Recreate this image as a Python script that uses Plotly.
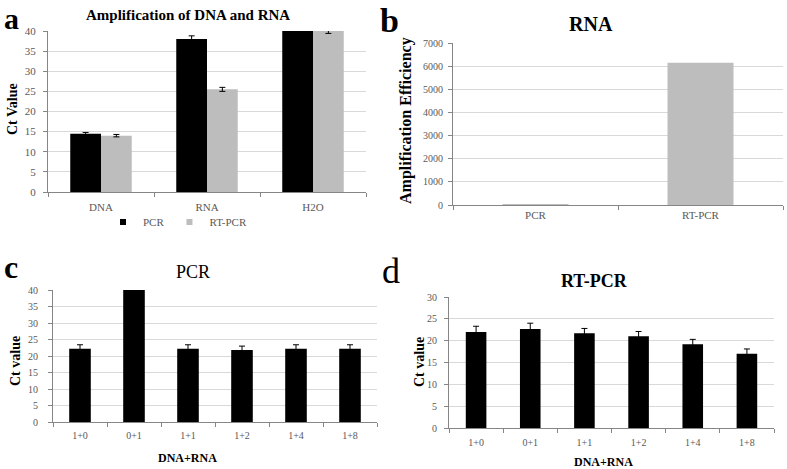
import plotly.graph_objects as go

W, H = 787, 469

# Panel a data
a_cats = ["DNA", "RNA", "H2O"]
a_pcr = [14.5, 38.0, 40.0]
a_pcr_err = [0.3, 0.8, 0.1]
a_rt = [14.0, 25.5, 40.0]
a_rt_err = [0.3, 0.5, 0.6]

# Panel b data
b_cats = ["PCR", "RT-PCR"]
b_vals = [5, 6150]

# Panel c data
c_cats = ["1+0", "0+1", "1+1", "1+2", "1+4", "1+8"]
c_vals = [22.2, 40.0, 22.2, 21.8, 22.2, 22.2]
c_err = [1.2, 0.1, 1.2, 1.2, 1.2, 1.2]

# Panel d data
d_cats = ["1+0", "0+1", "1+1", "1+2", "1+4", "1+8"]
d_vals = [22.0, 22.7, 21.7, 21.0, 19.2, 17.0]
d_err = [1.3, 1.3, 1.1, 1.1, 1.1, 1.1]

FONT = "Liberation Serif, Times New Roman, serif"
BLACK = "#000000"
GRAY = "#BDBDBD"
TICKC = "#595959"
GRID = "#D9D9D9"
AXC = "#868686"


def px(x):
    return x / W


def py(y):
    return 1 - y / H


fig = go.Figure()


def err(e):
    return dict(type="data", array=e, visible=True, color="#000000", thickness=1, width=3)


fig.add_trace(go.Bar(x=a_cats, y=a_pcr, name="PCR", marker=dict(color=BLACK, line=dict(width=0)),
                     error_y=err(a_pcr_err), xaxis="x", yaxis="y", showlegend=False, legendgroup="pcr"))
fig.add_trace(go.Bar(x=a_cats, y=a_rt, name="RT-PCR", marker=dict(color=GRAY, line=dict(width=0)),
                     error_y=err(a_rt_err), xaxis="x", yaxis="y", showlegend=False, legendgroup="rt"))
# legend entries (small square keys)
fig.add_trace(go.Scatter(x=[None], y=[None], mode="markers", name="PCR", legendgroup="pcr",
                         marker=dict(symbol="square", size=6, color=BLACK), xaxis="x", yaxis="y"))
fig.add_trace(go.Scatter(x=[None], y=[None], mode="markers", name="RT-PCR", legendgroup="rt",
                         marker=dict(symbol="square", size=6, color=GRAY), xaxis="x", yaxis="y"))

fig.add_trace(go.Bar(x=b_cats, y=b_vals, marker=dict(color=GRAY, line=dict(width=0)), showlegend=False,
                     xaxis="x2", yaxis="y2", width=0.4))
fig.add_trace(go.Bar(x=c_cats, y=c_vals, marker=dict(color=BLACK, line=dict(width=0)), showlegend=False,
                     error_y=err(c_err), xaxis="x3", yaxis="y3", width=0.4))
fig.add_trace(go.Bar(x=d_cats, y=d_vals, marker=dict(color=BLACK, line=dict(width=0)), showlegend=False,
                     error_y=err(d_err), xaxis="x4", yaxis="y4", width=0.38))


def xax(x0, x1, anchor, fs, so):
    return dict(domain=[px(x0), px(x1)], anchor=anchor, type="category", showline=True, linecolor=AXC,
                linewidth=1, ticks="outside", tickson="boundaries", ticklen=4, tickcolor=AXC,
                tickfont=dict(family=FONT, size=fs, color=TICKC), showgrid=False, fixedrange=True,
                automargin=False, ticklabelstandoff=so)


def yax(y0, y1, anchor, rng, dt, fs, so):
    return dict(domain=[py(y1), py(y0)], anchor=anchor, range=rng, dtick=dt, showline=True, linecolor=AXC,
                linewidth=1, ticks="outside", ticklen=4, tickcolor=AXC,
                tickfont=dict(family=FONT, size=fs, color=TICKC),
                showgrid=True, gridcolor=GRID, gridwidth=1, zeroline=False, fixedrange=True,
                automargin=False, ticklabelstandoff=so)


fig.update_layout(
    width=W, height=H, margin=dict(l=0, r=0, t=0, b=0, autoexpand=False),
    paper_bgcolor="white", plot_bgcolor="white",
    font=dict(family=FONT, color=BLACK),
    barmode="group", bargap=0.42, bargroupgap=0,
    xaxis=xax(48, 366, "y", 11, 5), yaxis=yax(31, 192, "x", [0, 40], 5, 11, 5),
    xaxis2=xax(453, 783, "y2", 11, 0), yaxis2=yax(43, 205, "x2", [0, 7000], 1000, 10, 3),
    xaxis3=xax(53, 377, "y3", 10, 4), yaxis3=yax(290, 422, "x3", [0, 40], 5, 10, 8),
    xaxis4=xax(449, 774, "y4", 10, 5), yaxis4=yax(297, 428, "x4", [0, 30], 5, 10, 5),
    showlegend=True,
    legend=dict(orientation="h", x=px(103), xanchor="left", y=py(222), yanchor="middle",
                font=dict(family=FONT, size=11, color=TICKC), itemwidth=30, tracegroupgap=0,
                bgcolor="rgba(0,0,0,0)"),
)

ann = []


def text(x, y, t, size, bold=True, angle=0, color=BLACK, xanchor="center", yanchor="middle"):
    ann.append(dict(x=px(x), y=py(y), xref="paper", yref="paper", text=t, showarrow=False,
                    xanchor=xanchor, yanchor=yanchor, textangle=angle,
                    font=dict(family=FONT, size=size, color=color, weight="bold" if bold else "normal")))


# panel letters
text(2, 0, "a", 30, True, xanchor="left", yanchor="top")
text(378, 0, "b", 34, True, xanchor="left", yanchor="top")
text(2, 267, "c", 32, True, xanchor="left")
text(380, 271, "d", 36, False, xanchor="left")

# titles
text(188, 15, "Amplification of DNA and RNA", 15)
text(591, 24, "RNA", 20)
text(193, 272, "PCR", 18, False)
text(594, 281, "RT-PCR", 18)

# axis titles
text(13, 109, "Ct Value", 14, angle=-90)
text(406, 121, "Amplification Efficiency", 16, angle=-90)
text(15, 361, "Ct value", 14, angle=-90)
text(419, 362, "Ct value", 14, angle=-90)
text(187, 458, "DNA+RNA", 12)
text(603, 462, "DNA+RNA", 12)

fig.update_layout(annotations=ann)

post = ("document.documentElement.style.margin='0';document.body.style.margin='0';"
        "document.body.style.padding='0';document.body.style.overflow='hidden';"
        "var gd=document.getElementById('{plot_id}');gd.style.position='absolute';"
        "gd.style.left='0px';gd.style.top='0px';")

fig.write_html("out.html", post_script=post, config={"displayModeBar": False})
